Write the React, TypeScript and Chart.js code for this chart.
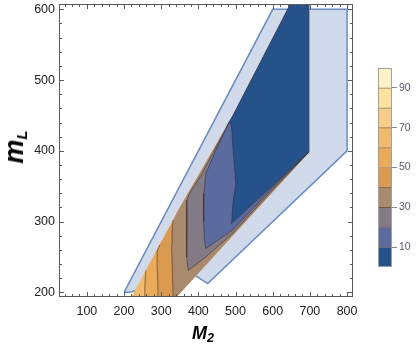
import React, { useEffect, useRef } from 'react';
import { Chart, registerables } from 'chart.js';

Chart.register(...registerables);

type P = [number, number];

// ---- axes / ticks ----
const xTicks = [100, 200, 300, 400, 500, 600, 700, 800];
const yTicks = [200, 300, 400, 500, 600];
const xRange = [25, 816];
const yRange = [193.5, 607.5];
const minorStep = 20;

// ---- colour bar ----
const barTicks = [10, 30, 50, 70, 90];
const bandEdges = [0, 10, 20, 30, 40, 50, 60, 70, 80, 90, 100];
const bandColors = ['#25528a', '#5b6a9f', '#827a84', '#a98a6d', '#da9a4f', '#eaaa58', '#f1bb6d', '#f7cd87', '#fde19f', '#fff3c6'];

// ---- allowed domain (light blue) ----
const domainOutline: P[] = [[200, 200], [600, 600], [800, 600], [800, 400], [425, 212.5], [390, 224.5], [360, 232], [222, 201]];

// ---- coloured region boundaries ----
const leftEdge: P[] = [[216, 190], [332, 302], [346, 316], [493, 450], [648, 608], [655, 615]];
const rightEdge: P[] = [[698, 615], [698, 398.5]];
const lowerEdgeStart: P = [335, 190];

// ---- contour lines (M2, mL) ----
const c60: P[] = [[256, 190], [256, 210], [258.5, 231]];
const c50: P[] = [[292, 190], [290, 230], [289, 258], [296, 267]];
const c40: P[] = [[330, 187], [332, 196], [330, 230], [328, 265], [329, 285], [332, 302]];
const c30: P[] = [[483, 441], [443, 401], [410, 368], [376, 340], [369, 330], [368, 288], [369, 250], [372.6, 231], [420, 250], [489, 282], [600, 345], [698, 398.5]];
const c20: P[] = [[483, 441], [447, 401], [420, 368], [415, 340], [414, 300], [416, 275], [420, 262], [489, 287], [600, 348], [698, 398.5]];
const c10: P[] = [[483, 441], [489, 436], [493.5, 401], [500.8, 351.6], [493.5, 330.3], [489.2, 297.3], [600, 351], [698, 398.5]];

const toXY = (pts: P[]) => pts.map(([x, y]) => ({ x, y }));
const close = (pts: P[]) => [...pts, pts[0]];

// region right of a contour that starts at the bottom and ends on the left edge
function regionFromBottom(c: P[]): P[] {
  const endY = c[c.length - 1][1];
  const upper = leftEdge.filter(([, y]) => y > endY);
  return close([...c, ...upper, ...rightEdge, lowerEdgeStart]);
}
// region enclosed by a contour that starts on the left edge (upper part)
function regionFromLeft(c: P[]): P[] {
  const startY = c[0][1];
  const upper = leftEdge.filter(([, y]) => y > startY).reverse();
  return close([...c, rightEdge[0], ...upper]);
}

const fullRegion = close([...leftEdge, ...rightEdge, lowerEdgeStart]);
const bandRegions: { pts: P[]; band: number }[] = [
  { pts: fullRegion, band: 6 },
  { pts: regionFromBottom(c60), band: 5 },
  { pts: regionFromBottom(c50), band: 4 },
  { pts: regionFromBottom(c40), band: 3 },
  { pts: regionFromLeft(c30), band: 2 },
  { pts: regionFromLeft(c20), band: 1 },
  { pts: regionFromLeft(c10), band: 0 },
];
const leftEdgeTop = leftEdge.filter(([, y]) => y > 441).reverse();
const contourLines: P[][] = [c60, c50, c40, c30, c20, [...leftEdgeTop, ...c10]];

const FONT = "'Liberation Sans', Arial, sans-serif";

const framePlugin = {
  id: 'frameTicks',
  afterDatasetsDraw(chart: any) {
    const { ctx, chartArea: a, scales } = chart;
    const sx = scales.x, sy = scales.y;
    ctx.save();
    ctx.strokeStyle = '#5a5a5a';
    ctx.lineWidth = 1;
    const seg = (x1: number, y1: number, x2: number, y2: number) => {
      ctx.beginPath(); ctx.moveTo(x1, y1); ctx.lineTo(x2, y2); ctx.stroke();
    };
    const L = Math.round(a.left) + 0.5, R = Math.round(a.right) - 0.5;
    const T = Math.round(a.top) + 0.5, B = Math.round(a.bottom) - 0.5;
    ctx.strokeRect(L, T, R - L, B - T);
    for (let v = Math.ceil(xRange[0] / minorStep) * minorStep; v <= xRange[1]; v += minorStep) {
      const px = Math.round(sx.getPixelForValue(v)) + 0.5;
      const len = xTicks.includes(v) ? 4.5 : 2.5;
      seg(px, B, px, B - len);
      seg(px, T, px, T + len);
    }
    for (let v = Math.ceil(yRange[0] / minorStep) * minorStep; v <= yRange[1]; v += minorStep) {
      const py = Math.round(sy.getPixelForValue(v)) + 0.5;
      const len = yTicks.includes(v) ? 4.5 : 2.5;
      seg(L, py, L + len, py);
      seg(R, py, R - len, py);
    }
    ctx.restore();
  },
};

const barFramePlugin = {
  id: 'barFrame',
  afterDatasetsDraw(chart: any) {
    const { ctx, chartArea: a } = chart;
    ctx.save();
    ctx.strokeStyle = '#a0a0a0';
    ctx.lineWidth = 1;
    ctx.strokeRect(Math.round(a.left) + 0.5, Math.round(a.top) + 0.5, Math.round(a.right - a.left) - 1, Math.round(a.bottom - a.top) - 1);
    ctx.restore();
  },
};

export default function App() {
  const mainRef = useRef<HTMLCanvasElement>(null);
  const barRef = useRef<HTMLCanvasElement>(null);

  useEffect(() => {
    const datasets: any[] = [];
    datasets.push({
      data: toXY(close(domainOutline)),
      showLine: true, fill: 'shape', tension: 0,
      backgroundColor: 'rgb(208,218,235)', borderColor: 'rgb(104,140,196)', borderWidth: 1.5,
      pointRadius: 0, order: 100,
    });
    bandRegions.forEach((r, i) => {
      datasets.push({
        data: toXY(r.pts), showLine: true, fill: 'shape', tension: 0,
        backgroundColor: bandColors[r.band], borderWidth: 0, borderColor: 'rgba(0,0,0,0)',
        pointRadius: 0, order: 90 - i,
      });
    });
    contourLines.forEach((c) => {
      datasets.push({
        data: toXY(c), showLine: true, fill: false, tension: 0,
        borderColor: 'rgba(55,40,45,0.55)', borderWidth: 1, pointRadius: 0, order: 1,
      });
    });

    const main = new Chart(mainRef.current!, {
      type: 'scatter',
      data: { datasets },
      options: {
        animation: false, responsive: false, maintainAspectRatio: false,
        layout: { padding: { left: 0, right: 63, top: 4, bottom: 0 } },
        plugins: { legend: { display: false }, tooltip: { enabled: false } },
        scales: {
          x: {
            type: 'linear', min: xRange[0], max: xRange[1],
            grid: { display: false, drawTicks: false }, border: { display: false },
            afterBuildTicks: (s: any) => { s.ticks = xTicks.map((v) => ({ value: v })); },
            afterFit: (s: any) => { s.height = 56; s.paddingLeft = 0; s.paddingRight = 0; },
            ticks: { padding: 7, color: '#222', font: { family: FONT, size: 12.5 }, maxRotation: 0, autoSkip: false },
          },
          y: {
            type: 'linear', min: yRange[0], max: yRange[1],
            grid: { display: false, drawTicks: false }, border: { display: false },
            afterBuildTicks: (s: any) => { s.ticks = yTicks.map((v) => ({ value: v })); },
            afterFit: (s: any) => { s.width = 59; s.paddingTop = 0; s.paddingBottom = 0; },
            ticks: { padding: 4, color: '#222', font: { family: FONT, size: 12.5 }, autoSkip: false },
          },
        },
      } as any,
      plugins: [framePlugin],
    });

    const bar = new Chart(barRef.current!, {
      type: 'bar',
      data: {
        labels: [''],
        datasets: bandColors.map((c, i) => ({
          data: [bandEdges[i + 1] - bandEdges[i]],
          backgroundColor: c,
          borderColor: 'rgba(70,50,30,0.65)',
          borderWidth: { top: 1, bottom: 0, left: 0, right: 0 },
          borderSkipped: false,
          barPercentage: 1, categoryPercentage: 1,
        })),
      },
      options: {
        animation: false, responsive: false, maintainAspectRatio: false,
        layout: { padding: { left: 8, right: 0, top: 8, bottom: 8 } },
        plugins: { legend: { display: false }, tooltip: { enabled: false } },
        scales: {
          x: { stacked: true, display: false },
          y: {
            stacked: true, position: 'right', min: 0, max: 100,
            grid: { drawOnChartArea: false, drawTicks: true, tickLength: 5, color: '#888' },
            border: { display: false },
            afterBuildTicks: (s: any) => { s.ticks = barTicks.map((v) => ({ value: v })); },
            afterFit: (s: any) => { s.width = 24; s.paddingTop = 0; s.paddingBottom = 0; },
            ticks: { padding: 2, color: '#555a66', font: { family: FONT, size: 10.5 } },
          },
        },
      } as any,
      plugins: [barFramePlugin],
    });

    return () => { main.destroy(); bar.destroy(); };
  }, []);

  return (
    <div style={{ position: 'fixed', left: 0, top: 0, width: 416, height: 353, background: '#fff', overflow: 'hidden' }}>
      <canvas ref={mainRef} width={416} height={353} style={{ position: 'absolute', left: 0, top: 0, display: 'block' }} />
      <canvas ref={barRef} width={46} height={215} style={{ position: 'absolute', left: 370, top: 60, display: 'block' }} />
      <div style={{ position: 'absolute', left: 192, top: 322, fontFamily: FONT, fontWeight: 'bold', fontStyle: 'italic', fontSize: 18, lineHeight: '22px', whiteSpace: 'nowrap', color: '#000' }}>
        M<span style={{ fontSize: 12.5, verticalAlign: -3 }}>2</span>
      </div>
      <div style={{ position: 'absolute', left: 18, top: 147, width: 0, height: 0 }}>
        <div style={{ position: 'absolute', left: 0, top: 0, transform: 'translate(-50%, -50%) rotate(-90deg)', fontFamily: FONT, fontWeight: 'bold', fontStyle: 'italic', fontSize: 27, lineHeight: '30px', whiteSpace: 'nowrap', color: '#000' }}>
          m<span style={{ fontSize: 15, verticalAlign: -4 }}>L</span>
        </div>
      </div>
    </div>
  );
}
